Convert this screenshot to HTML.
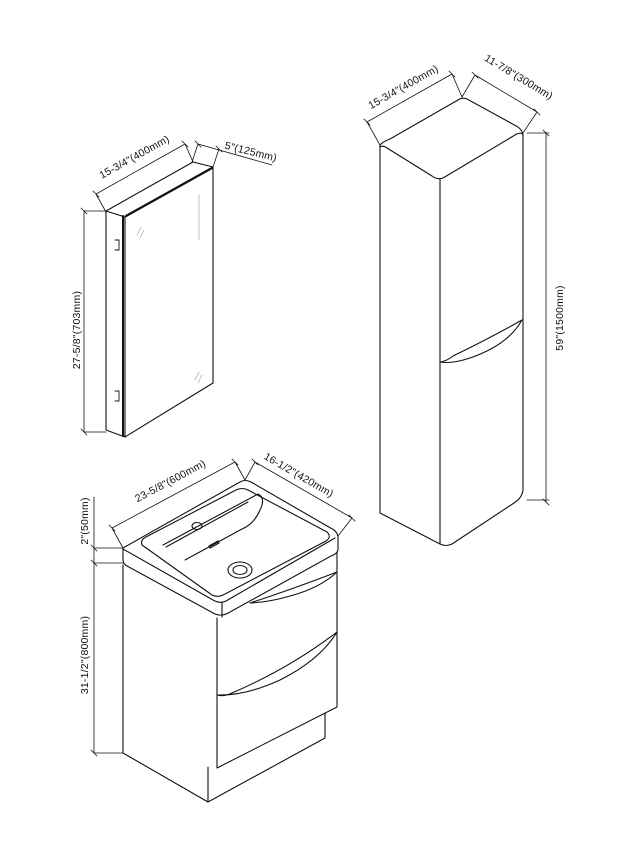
<!DOCTYPE html>
<html><head><meta charset="utf-8"><style>
html,body{margin:0;padding:0;background:#fff;width:641px;height:860px;overflow:hidden}
svg{display:block}
text{font-family:"Liberation Sans",sans-serif;font-size:10.5px;fill:#111;letter-spacing:0.2px}
</style></head><body>
<svg width="641" height="860" viewBox="0 0 641 860" xmlns="http://www.w3.org/2000/svg">
<g fill="none" stroke="#111" stroke-width="1.1" stroke-linejoin="round" stroke-linecap="round">
<!-- Mirror cabinet -->
<path d="M106,211 L193,162 L213,167 L125,217 Z"/>
<path d="M106,211 L106,430 L125,437 L125,217"/>
<path d="M125,217 L213,167 L213,383 L125,437" />
<path d="M123,216 L123,436" stroke-width="2"/>
<path d="M126,216 L212,168" stroke-width="2.2"/>
<path d="M115,240 h4 v10 h-4 M115,391 h4 v10 h-4" stroke-width="0.9"/>
<path d="M137,235 l4,-8 M140,238 l4,-8 M195,380 l4,-8 M198,383 l4,-8 M199,240 l0,-45" stroke="#999" stroke-width="0.6"/>
<!-- mirror dims -->
<path d="M84,211 L84,432 M81,208 l6,6 M81,429 l6,6 M84,211 L106,211 M84,432 L106,432" stroke-width="0.8"/>
<path d="M96,194 L185,144 M96,194 L106,212 M185,144 L193,162 M93,191 l6,6 M182,141 l6,6" stroke-width="0.8"/>
<path d="M198,144 L272,165 M198,144 L192,162 M219,149 L213,167 M195,141 l6,6 M216,146 l6,6" stroke-width="0.8"/>
<!-- Tall cabinet -->
<path d="M380,145 Q384,141 390,139 L458,100 Q462,97 467,99 L518,127 Q523,131 523,136 L523,490 Q522,498 514,503 L452,544 Q446,547 440,544 L380,513 Z"/>
<path d="M380,147 Q383,145 387,148 L432,176 Q437,180 443,178 L515,135 Q520,132 523,134"/>
<path d="M440,179 L440,544"/>
<path d="M440,362 Q447,361 453,356 Q490,338 522,320 Q508,345 470,358 Q452,364 440,362" />
<!-- tall dims -->
<path d="M367,122 L452,74 M367,122 L380,145 M452,74 L462,97 M364,119 l6,6 M449,71 l6,6" stroke-width="0.8"/>
<path d="M475,75 L537,112 M475,75 L462,97 M537,112 L523,133 M472,72 l6,6 M534,109 l6,6" stroke-width="0.8"/>
<path d="M546,133 L546,502 M527,133 L549,133 M527,500 L549,500 M543,130 l6,6 M543,499 l6,6" stroke-width="0.8"/>
<!-- Vanity -->
<path d="M123,548 L240,482 Q245,479 251,482 L334,530 Q338,533 338,538 L338,550 Q337,554 331,556 L230,612 Q222,617 215,614 L127,566 Q123,564 123,560 Z"/>
<path d="M123,549 L213,600 Q220,604 226,601 L335,538"/>
<path d="M222,603 L222,617"/>
<path d="M142,545 Q140,540 146,537 L236,490 Q242,487 248,490 L327,532 Q332,537 326,541 L225,594 Q218,598 212,595 Z"/>
<path d="M163,545 L258,494 Q266,498 260,510 Q254,524 242,529 L185,560"/>
<path d="M166,547 L248,502"/>
<ellipse cx="240" cy="570" rx="12" ry="8"/>
<ellipse cx="240" cy="570" rx="7" ry="4.5"/>
<ellipse cx="197" cy="526" rx="5" ry="3.5"/>
<path d="M209,546 l9,-5 l1,2 l-9,5 z"/>
<path d="M123,565 L123,753 L208,802 L208,767"/>
<path d="M217,618 L217,768 L337,707 L337,552"/>
<path d="M208,802 L325,738 L325,713"/>
<path d="M250,603 Q290,590 337,572 Q320,588 290,596 Q270,602 250,603"/>
<path d="M217,695 Q224,697 232,693 Q290,668 337,632 Q320,660 280,680 Q245,696 217,695"/>
<!-- vanity dims -->
<path d="M112,528 L235,462 M112,528 L123,548 M235,462 L245,480 M109,525 l6,6 M232,459 l6,6" stroke-width="0.8"/>
<path d="M255,462 L352,518 M255,462 L245,480 M352,518 L338,536 M252,459 l6,6 M349,515 l6,6" stroke-width="0.8"/>
<path d="M94,497 L94,753 M94,548 L123,548 M94,563 L123,563 M94,753 L123,753 M91,545 l6,6 M91,560 l6,6 M91,750 l6,6" stroke-width="0.8"/>
</g>
<text transform="translate(136,160) rotate(-29)" text-anchor="middle">15-3/4"(400mm)</text>
<text transform="translate(250,155) rotate(14)" text-anchor="middle">5"(125mm)</text>
<text transform="translate(80,330) rotate(-90)" text-anchor="middle">27-5/8"(703mm)</text>
<text transform="translate(405,90) rotate(-29.5)" text-anchor="middle">15-3/4"(400mm)</text>
<text transform="translate(517,80) rotate(31)" text-anchor="middle">11-7/8"(300mm)</text>
<text transform="translate(563,318) rotate(-90)" text-anchor="middle">59"(1500mm)</text>
<text transform="translate(172,484) rotate(-28)" text-anchor="middle">23-5/8"(600mm)</text>
<text transform="translate(297,478) rotate(30)" text-anchor="middle">16-1/2"(420mm)</text>
<text transform="translate(88,521) rotate(-90)" text-anchor="middle">2"(50mm)</text>
<text transform="translate(88,655) rotate(-90)" text-anchor="middle">31-1/2"(800mm)</text>
</svg>
</body></html>
